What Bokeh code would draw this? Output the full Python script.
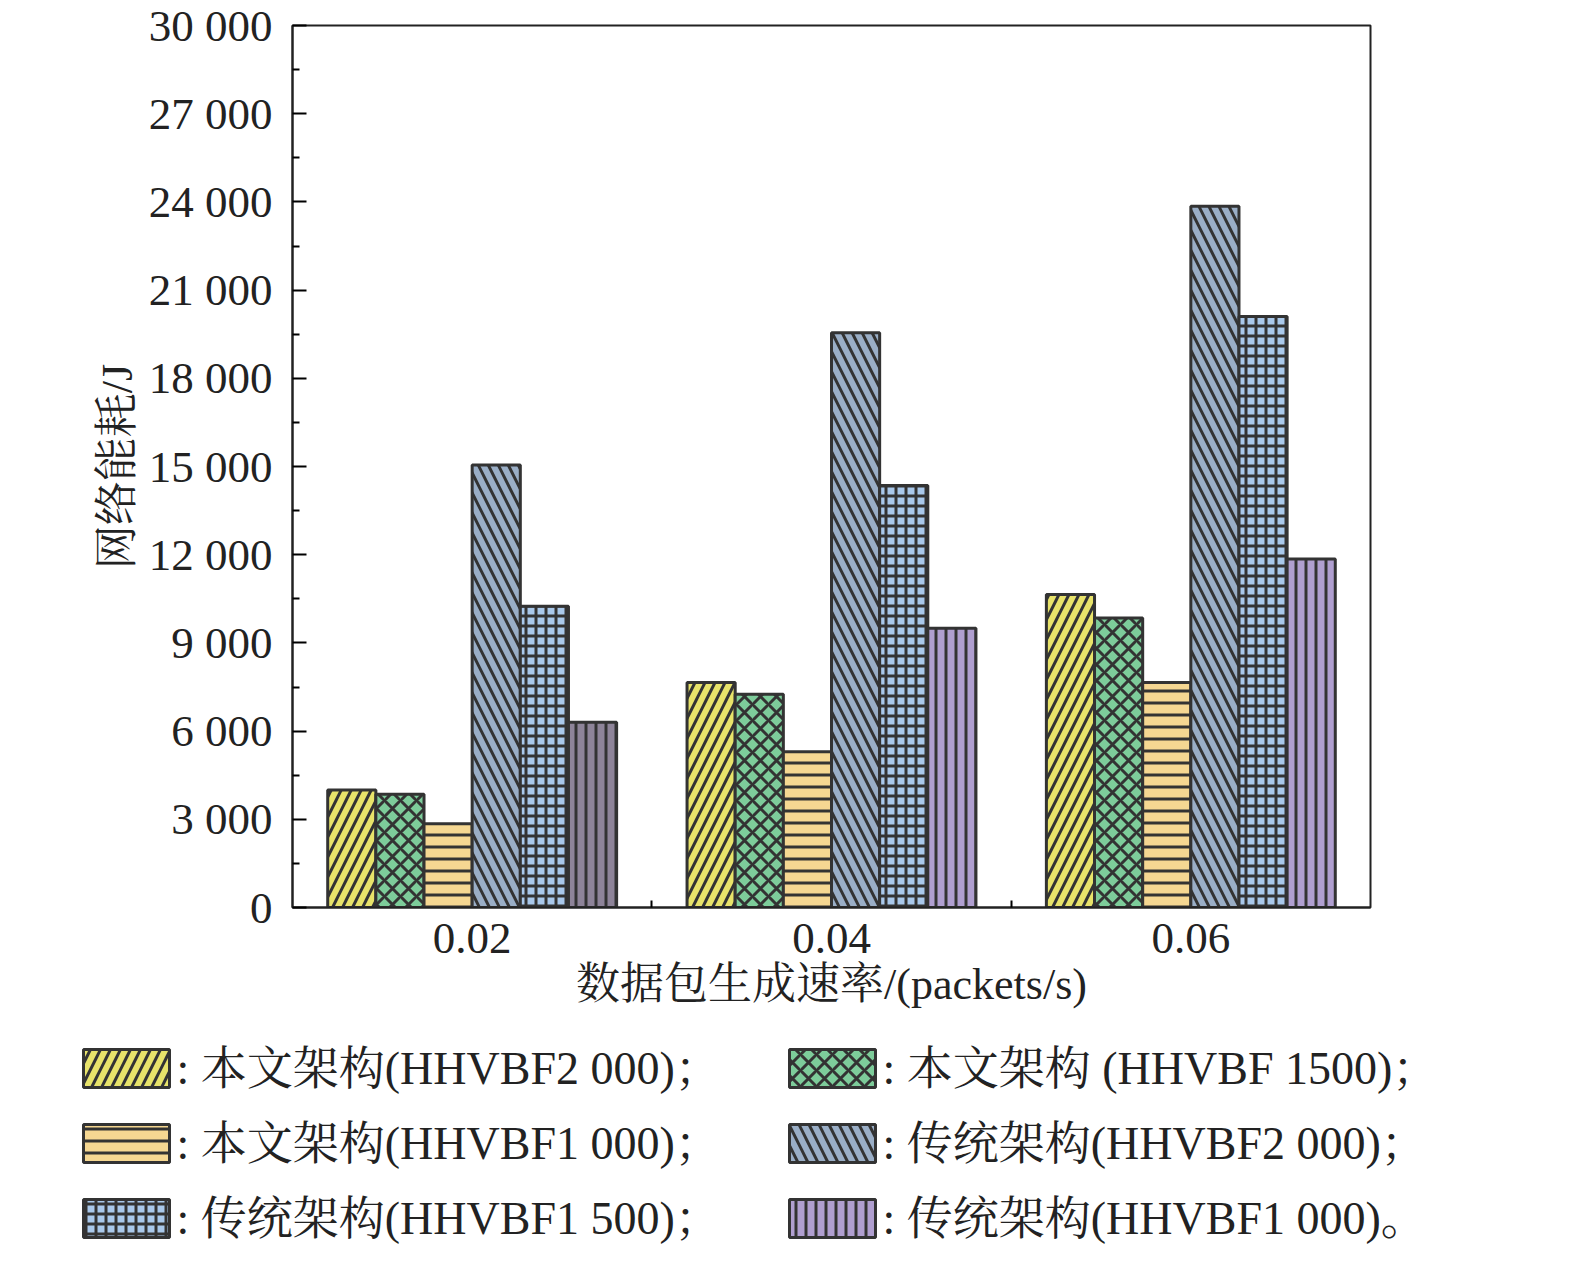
from bokeh.plotting import figure
from bokeh.layouts import column
from bokeh.models import FixedTicker, Range1d, ColumnDataSource, CustomJSTickFormatter
from bokeh.embed import file_html
from bokeh.resources import INLINE
from bokeh.core.properties import value

groups = ["0.02", "0.04", "0.06"]
series = ["本文架构(HHVBF2 000)", "本文架构 (HHVBF 1500)", "本文架构(HHVBF1 000)",
          "传统架构(HHVBF2 000)", "传统架构(HHVBF1 500)", "传统架构(HHVBF1 000)"]
v_ours2000 = [4000, 7650, 10650]
v_ours1500 = [3850, 7250, 9850]
v_ours1000 = [2850, 5300, 7650]
v_trad2000 = [15050, 19550, 23850]
v_trad1500 = [10250, 14350, 20100]
v_trad1000 = [6300, 9500, 11850]
values = [v_ours2000, v_ours1500, v_ours1000, v_trad2000, v_trad1500, v_trad1000]
colors = ["#e8e36a", "#7dcc9a", "#f5d792", "#9aaec6", "#a9c8ea", "#b09fd0"]
hatches = ["/", "x", "-", "\\", "+", "|"]
scales = [20, 16, 12, 20, 10, 10]
yticks = list(range(0, 30001, 3000))

FONT = "Liberation Serif, Noto Serif CJK SC, Noto Sans CJK SC"
p = figure(frame_width=1078, frame_height=882, output_backend="svg", toolbar_location=None,
           x_range=Range1d(-0.5, 2.5), y_range=Range1d(0, 30000),
           min_border_left=292, min_border_top=25, min_border_bottom=131, min_border_right=20)
bw = 0.134
for i in range(6):
    cols = [colors[i]] * 3
    if i == 5:
        cols[0] = "#8e8499"
    src = ColumnDataSource(dict(x=[g + (i - 2.5) * bw for g in range(3)], top=values[i], c=cols))
    p.vbar(x="x", top="top", width=bw, source=src, fill_color="c", line_color="#333333",
           line_width=3, hatch_pattern=hatches[i], hatch_color="#333333",
           hatch_scale=scales[i], hatch_weight=3)
p.grid.visible = False
p.outline_line_color = "#222222"
p.outline_line_width = 2
p.xaxis.ticker = FixedTicker(ticks=[0, 1, 2], minor_ticks=[0.5, 1.5])
p.xaxis.major_label_overrides = {0: groups[0], 1: groups[1], 2: groups[2]}
p.xaxis.major_tick_in = 0
p.xaxis.major_tick_out = 0
p.xaxis.minor_tick_in = 7
p.xaxis.minor_tick_out = 0
p.yaxis.ticker = FixedTicker(ticks=yticks, minor_ticks=list(range(1500, 30000, 3000)))
p.yaxis.formatter = CustomJSTickFormatter(code="""
var s = Math.round(tick).toString();
if (s.length > 3) { s = s.slice(0, s.length-3) + ' ' + s.slice(s.length-3); }
return s;""")
p.yaxis.major_tick_in = 14
p.yaxis.major_tick_out = 0
p.yaxis.minor_tick_in = 7
p.yaxis.minor_tick_out = 0
for ax in (p.xaxis, p.yaxis):
    ax.axis_line_width = 2
    ax.axis_line_color = "#222222"
    ax.major_tick_line_width = 2
    ax.minor_tick_line_width = 2
    ax.major_label_text_font = FONT
    ax.major_label_text_font_size = "45px"
    ax.major_label_text_color = "#222222"
    ax.axis_label_text_font = FONT
    ax.axis_label_text_font_size = "44px"
    ax.axis_label_text_font_style = "normal"
    ax.axis_label_text_color = "#222222"
p.xaxis.axis_label = "数据包生成速率/(packets/s)"
p.yaxis.axis_label = "网络能耗/J"
p.xaxis.major_label_standoff = 16
p.xaxis.axis_label_standoff = 4
p.yaxis.major_label_standoff = 20
p.yaxis.axis_label_standoff = 4

# legend
lg = figure(width=1560, height=212, output_backend="svg", toolbar_location=None,
            x_range=Range1d(0, 1560), y_range=Range1d(212, 0), min_border=0)
lg.axis.visible = False
lg.grid.visible = False
lg.outline_line_color = None
sx = [126, 832, 126, 832, 126, 832]
sy = [30, 30, 105, 105, 180, 180]
ends = ["；", "；", "；", "；", "；", "。"]
for i in range(6):
    lg.rect(x=[sx[i]], y=[sy[i]], width=86, height=38, fill_color=colors[i], line_color="#333333",
            line_width=3, hatch_pattern=hatches[i], hatch_color="#333333",
            hatch_scale=scales[i], hatch_weight=3)
    lg.text(x=[sx[i] + 50], y=[sy[i]], text=[": " + series[i] + ends[i]], text_font=value(FONT),
            text_font_size="46px", text_baseline="middle", text_color="#222222")

out = column(p, column(lg), spacing=0)
open("out.html", "w").write(file_html(out, INLINE))
